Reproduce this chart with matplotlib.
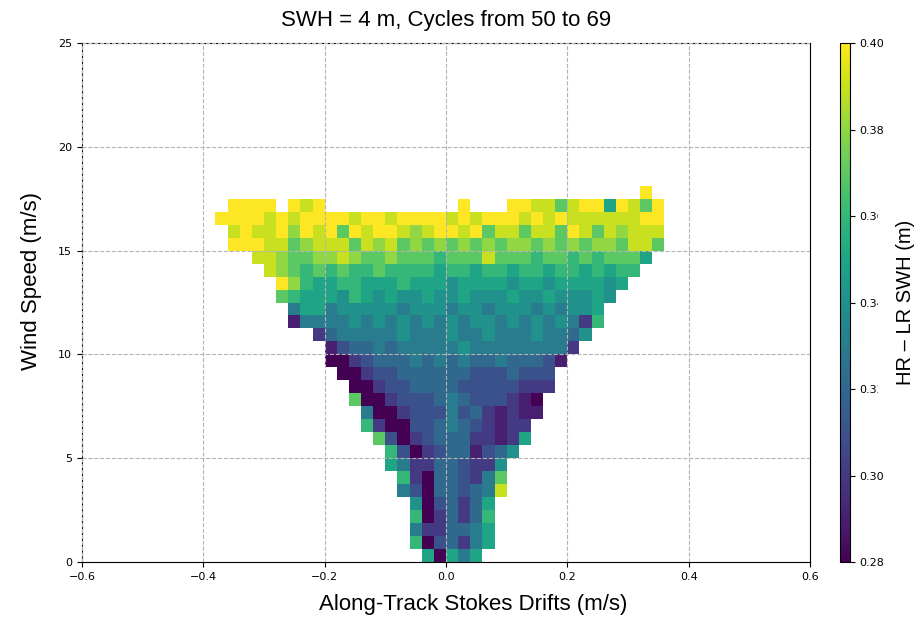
import numpy as np
import matplotlib
import matplotlib.pyplot as plt

matplotlib.use('Agg')

# Bins of the 2D histogram (x: 60 bins, y: 40 bins)
x_edges = np.linspace(-0.6, 0.6, 61)
y_edges = np.linspace(0, 25, 41)

# First filled x bin (x = -0.38); each row string covers 37 bins
first_col = 11

# Mean HR - LR SWH per bin.
# One string per wind-speed bin (bottom row first), one letter per drift bin:
# 'a' = 0.28, 'b' = 0.29, ... 'm' = 0.40, '.' = no data
rows = [
    ".........." + ".......hah" + "fh........" + ".......",
    ".........." + "......iade" + "cfh......." + ".......",
    ".........." + "......fcce" + "efh......." + ".......",
    ".........." + "......iace" + "cei......." + ".......",
    ".........." + "......gade" + "ceh......." + ".......",
    ".........." + ".....fdaee" + "defl......" + ".......",
    ".........." + ".....icaee" + "dcfj......" + ".......",
    ".........." + "....hfccee" + "dccg......" + ".......",
    ".........." + "....idacde" + "ebdeg....." + ".......",
    ".........." + "...jdacdee" + "eccbch...." + ".......",
    ".........." + "..icaaddef" + "edcbcc...." + ".......",
    ".........." + "..faacdddf" + "decbcbb..." + ".......",
    ".........." + ".jaacdddef" + "edddcba..." + ".......",
    ".........." + ".aacddeeee" + "dddddccc.." + ".......",
    ".........." + "aacddeeeee" + "edddeddd.." + ".......",
    ".........a" + "acdeeefefe" + "feefeeedb." + ".......",
    ".........b" + "deefefffff" + "gffffffffc" + ".......",
    "........ce" + "fffffgfffg" + "ffgfffgffe" + "g......",
    "......bfff" + "fgfgfgfgfg" + "fggfgfgfgf" + "ci.....",
    "......fhhf" + "gggggfgggf" + "ggfgggfgfg" + "gh.....",
    ".....jihhh" + "gihghgghgg" + "hggghgghgg" + "ghg....",
    ".....mkihh" + "iihhhihhhg" + "hhhhghhghh" + "hhgh...",
    "....lkjiji" + "jiijiiiihi" + "ihiihiihii" + "hihii..",
    "...llkjjkk" + "lkjjkjjjij" + "jjljjjijji" + "jijjjh.",
    ".mmmlljkll" + "ljlkljkjkj" + "kjkjkkjkjk" + "jkkjllj",
    ".lmllmkmlm" + "jmlmmlklmm" + "lmjlljlljm" + "ljlklll",
    "mmmmlmlmmm" + "mlmmlmmmml" + "mlmmmlmlml" + "lllllmm",
    ".mmmm.mlm." + ".........." + "m...mmlljl" + "mmhmljm",
    ".........." + ".........." + ".........." + ".....m.",
]

levels = "abcdefghijklm"
level_values = np.round(0.28 + 0.01 * np.arange(len(levels)), 2)

# Colour scale
vmin, vmax = 0.28, 0.40
cbar_ticks = [0.28, 0.30, 0.32, 0.34, 0.36, 0.38, 0.40]

# Build the grid from the strings
grid = np.full((len(y_edges) - 1, len(x_edges) - 1), np.nan)
for r, row in enumerate(rows):
    for c, ch in enumerate(row):
        if ch in levels:
            grid[r, first_col + c] = level_values[levels.index(ch)]

fig = plt.figure(figsize=(9.18, 6.2), dpi=100)
ax = fig.add_axes([82 / 918, 58 / 620, 728 / 918, 519 / 620])
cax = fig.add_axes([840 / 918, 58 / 620, 10 / 918, 519 / 620])

mesh = ax.pcolormesh(x_edges, y_edges, grid, cmap='viridis', vmin=vmin, vmax=vmax)

ax.set_xlim(-0.6, 0.6)
ax.set_ylim(0, 25)
ax.set_xticks(np.linspace(-0.6, 0.6, 7))
ax.set_yticks(np.arange(0, 26, 5))
ax.tick_params(labelsize=8)
ax.set_axisbelow(False)
ax.grid(True, linestyle='--', color='#b4b4b4', linewidth=0.8)

ax.set_title('SWH = 4 m, Cycles from 50 to 69', fontsize=16,
             family='Liberation Sans', pad=12)
ax.set_xlabel('Along-Track Stokes Drifts (m/s)', fontsize=16,
              family='Liberation Sans')
ax.xaxis.set_label_coords(0.538, -0.062)
ax.set_ylabel('Wind Speed (m/s)', fontsize=16, family='Liberation Sans')
ax.yaxis.set_label_coords(-0.055, 0.541)

cbar = fig.colorbar(mesh, cax=cax, ticks=cbar_ticks)
cbar.ax.tick_params(labelsize=8)
cbar.ax.set_yticklabels(['%.2f' % t for t in cbar_ticks])
cbar.set_label('HR – LR SWH (m)', fontsize=14.5, family='Liberation Sans',
               bbox=dict(boxstyle='square,pad=0.9', facecolor='white',
                         edgecolor='none'))
cbar.ax.yaxis.set_label_coords(5.6, 0.5)

fig.savefig('out.png', dpi=100)
